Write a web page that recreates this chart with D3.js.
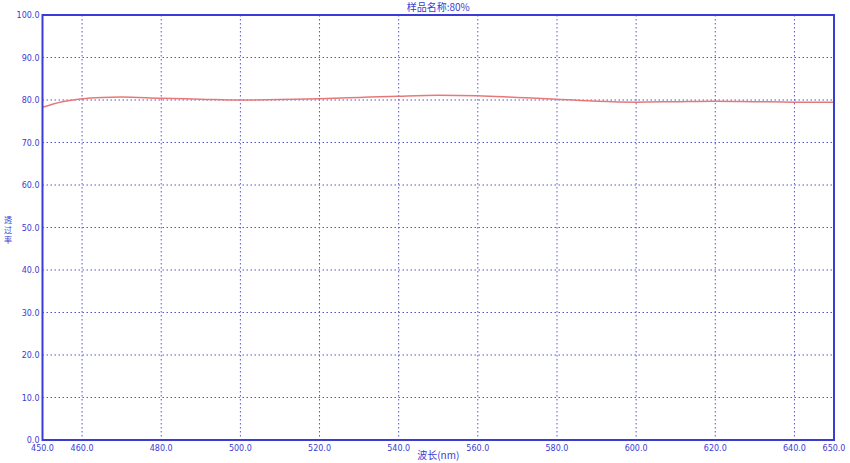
<!DOCTYPE html><html><head><meta charset="utf-8"><script src="https://cdn.jsdelivr.net/npm/d3@7"></script>
<style>body{margin:0;background:#fff}</style></head><body><svg id="c" width="850" height="463"></svg><script>
const wavelengths=[450,455,460,465,470,480,490,500,510,520,530,540,550,560,570,580,590,600,610,620,630,640,650];
const transmittance=[78.3,79.6,80.3,80.6,80.7,80.4,80.2,80.0,80.1,80.3,80.6,80.9,81.1,81.0,80.6,80.2,79.7,79.5,79.6,79.7,79.6,79.5,79.5];
const xTicks=[450,460,480,500,520,540,560,580,600,620,640,650];
const xGrid=[460,480,500,520,540,560,580,600,620,640];
const yTicks=[0,10,20,30,40,50,60,70,80,90,100];
const yLabelChars=["透","过","率"];
const svg=d3.select("#c"),L=42.5,R=834,T=15,B=440,blue="#3b3bd6";
const x=d3.scaleLinear().domain([450,650]).range([L,R]);
const y=d3.scaleLinear().domain([0,100]).range([B,T]);
const g=svg.append("g");
g.selectAll(".vg").data(xGrid).enter().append("line").attr("x1",d=>x(d)).attr("x2",d=>x(d)).attr("y1",T).attr("y2",B).attr("stroke","#5555dd").attr("stroke-dasharray","1.5,2.5");
g.selectAll(".hg").data(yTicks.slice(1,-1)).enter().append("line").attr("y1",d=>y(d)).attr("y2",d=>y(d)).attr("x1",L).attr("x2",R).attr("stroke","#5555dd").attr("stroke-dasharray","1.5,2.5");
svg.append("path").datum(wavelengths.map((w,i)=>[w,transmittance[i]])).attr("fill","none").attr("stroke","#e87878").attr("stroke-width",1.5)
 .attr("d",d3.line().x(d=>x(d[0])).y(d=>y(d[1])).curve(d3.curveMonotoneX));
svg.append("rect").attr("x",L).attr("y",T).attr("width",R-L).attr("height",B-T).attr("fill","none").attr("stroke",blue).attr("stroke-width",2);
const f="font-family:'DejaVu Sans';font-size:8px;fill:"+blue;
svg.selectAll(".xl").data(xTicks).enter().append("text").attr("x",d=>x(d)).attr("y",B+11).attr("text-anchor","middle").attr("style",f).text(d=>d.toFixed(1));
svg.selectAll(".yl").data(yTicks).enter().append("text").attr("x",L-3).attr("y",d=>y(d)+3).attr("text-anchor","end").attr("style",f).text(d=>d.toFixed(1));
svg.append("text").attr("x",(L+R)/2).attr("y",11).attr("text-anchor","middle").attr("style","font-family:'Noto Sans CJK SC';font-size:10px;fill:"+blue).text("样品名称:80%");
svg.append("text").attr("x",(L+R)/2).attr("y",459).attr("text-anchor","middle").attr("style","font-family:'Noto Sans CJK SC';font-size:10px;fill:"+blue).text("波长(nm)");
svg.selectAll(".ylab").data(yLabelChars).enter().append("text").attr("x",8).attr("y",(d,i)=>223+i*10).attr("text-anchor","middle").attr("style","font-family:'Noto Sans CJK SC';font-size:8px;fill:"+blue).text(d=>d);
</script></body></html>
